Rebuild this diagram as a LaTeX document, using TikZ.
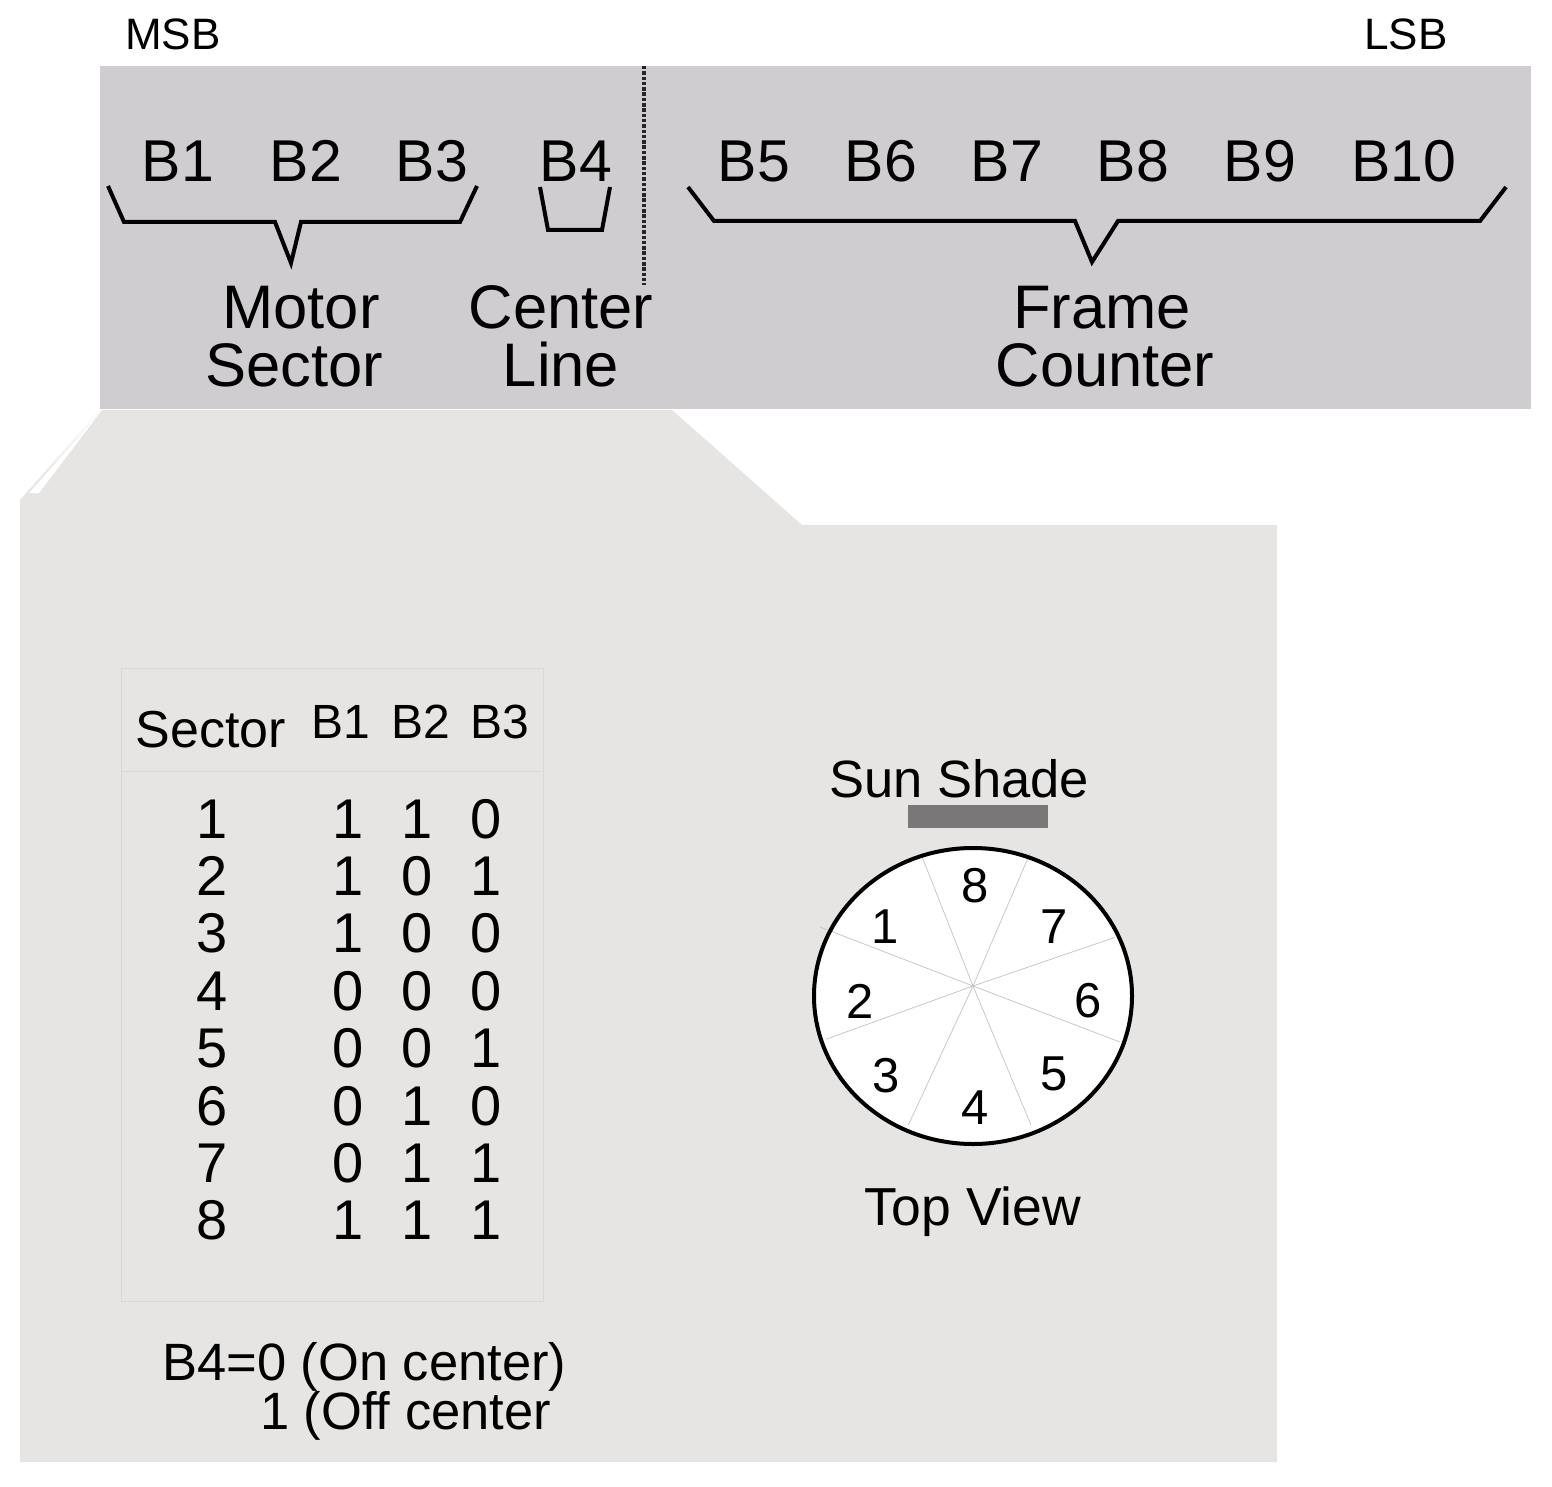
\documentclass[tikz,border=0pt]{standalone}
\usepackage{fontspec}
\setmainfont{Liberation Sans}
\definecolor{toppanel}{HTML}{CFCDCF}
\definecolor{lowpanel}{HTML}{E6E5E3}
\definecolor{tabline}{HTML}{D9D8D6}
\definecolor{sunbar}{HTML}{797778}
\definecolor{sectline}{HTML}{C8C8C8}
\tikzset{
  fs/.style={font=\fontsize{#1}{#1}\selectfont},
  lbl/.style={inner sep=0pt, anchor=base},
  brace/.style={line width=4pt, line join=miter, black},
  dig/.style={inner sep=0pt, anchor=center, fs=49},
  cell/.style={inner sep=0pt, anchor=base, fs=56},
}
\begin{document}
\begin{tikzpicture}[x=1pt,y=-1pt]
\useasboundingbox (0,0) rectangle (1552,1487);
\fill[white] (0,0) rectangle (1552,1487);
% panels
\fill[lowpanel] (20,500) -- (99,410) -- (672,410) -- (802,525) -- (1277,525) -- (1277,1462) -- (20,1462) -- cycle;
\fill[white] (27,493) -- (39,493) -- (102,410) -- (99,410) -- cycle;
\fill[lowpanel] (24,496) -- (29,493) -- (100,412) -- cycle;
\fill[toppanel] (100,66) rectangle (1531,409);
\draw[black!85, line width=3.5pt, dash pattern=on 3.5pt off 1.8pt] (644,66) -- (644,285);
% MSB / LSB
\node[lbl, fs=44] (msb) at (173,50) {MSB};
\node[lbl, fs=44] (lsb) at (1406,50) {LSB};
% bits
\foreach \n/\x in {1/178,2/306,3/432,4/576,5/754,6/881,7/1007,8/1133,9/1260,10/1404}
  \node[lbl, fs=59] (b\n) at (\x,182) {B\n};
% braces
\draw[brace] (108,186) -- (124,222) -- (275,222) -- (291,263) -- (301,222) -- (460,222) -- (477,186);
\draw[brace] (540,187) -- (548,230) -- (602,230) -- (610,187);
\draw[brace] (688,187) -- (714,221) -- (1075,221) -- (1092,262) -- (1118,221) -- (1480,221) -- (1506,187);
% group labels
\node[lbl, fs=61.5] (motor) at (301,329) {Motor};
\node[lbl, fs=61.5] (sector) at (294,386) {Sector};
\node[lbl, fs=61.5] (center) at (561,329) {Center};
\node[lbl, fs=61.5] (line) at (561,386) {Line};
\node[lbl, fs=61.5] (frame) at (1102,329) {Frame};
\node[lbl, fs=61.5] (counter) at (1105,386) {Counter};
% table
\draw[tabline, line width=1pt] (121,668) rectangle (543,1301);
\draw[tabline, line width=1pt] (121,771) -- (541,771);
\node[lbl, fs=52] (hsec) at (211,747) {Sector};
\node[lbl, fs=48] (hb1) at (341,738) {B1};
\node[lbl, fs=48] (hb2) at (421,738) {B2};
\node[lbl, fs=48] (hb3) at (500,738) {B3};
\foreach \r/\a/\b/\c [count=\i from 0] in {1/1/1/0,2/1/0/1,3/1/0/0,4/0/0/0,5/0/0/1,6/0/1/0,7/0/1/1,8/1/1/1}{
  \pgfmathsetmacro{\yy}{838+57.4*\i}
  \node[cell] (s\r) at (212,\yy) {\r};
  \node[cell] (c\r a) at (348,\yy) {\a};
  \node[cell] (c\r b) at (417,\yy) {\b};
  \node[cell] (c\r c) at (486,\yy) {\c};
}
\node[inner sep=0pt, anchor=base west, fs=52.5] (b4a) at (162,1380) {B4=0 (On center)};
\node[inner sep=0pt, anchor=base west, fs=52.5] (b4b) at (260,1429) {1 (Off center};
% sun shade
\node[lbl, fs=52.5] (sun) at (959,797) {Sun Shade};
\fill[sunbar] (908,805) rectangle (1048,828);
% wheel
\fill[white] (973,996) ellipse [x radius=160, y radius=149];
\coordinate (hub) at (973,986);
\foreach \p in {(920.7,853.3),(1030,853.3),(820,927),(1115,937.3),(826,1039.3),(1120,1042),(908.3,1125),(1031,1125)}
  \draw[sectline, line width=0.8pt] (hub) -- \p;
\draw[black, line width=4pt] (973,996) ellipse [x radius=159, y radius=148];
\node[dig] (w8) at (975,886) {8};
\node[dig] (w7) at (1054,927) {7};
\node[dig] (w1) at (885,927) {1};
\node[dig] (w2) at (860,1001) {2};
\node[dig] (w6) at (1088,1001) {6};
\node[dig] (w3) at (886,1076) {3};
\node[dig] (w5) at (1054,1074) {5};
\node[dig] (w4) at (975,1108) {4};
\node[lbl, fs=53.5] (top) at (973,1225) {Top View};
\end{tikzpicture}
\end{document}
